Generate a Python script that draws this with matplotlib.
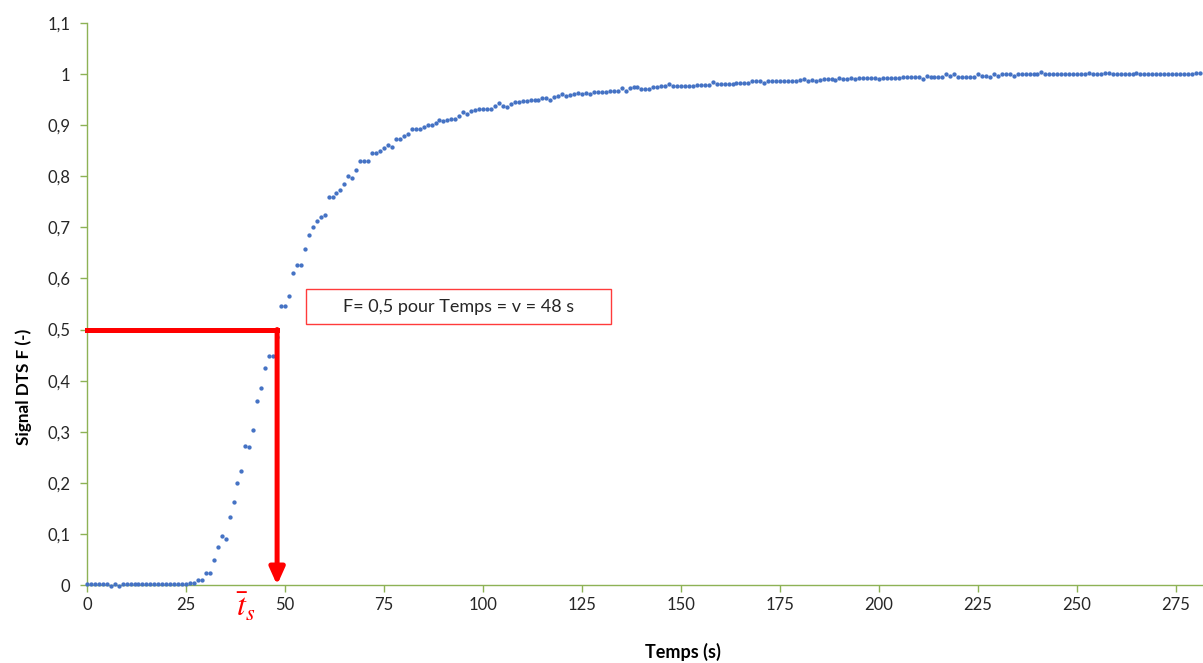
import numpy as np
import matplotlib
matplotlib.use("Agg")
import matplotlib.pyplot as plt
from matplotlib.patches import Rectangle
from matplotlib.ticker import FixedLocator, FuncFormatter

plt.rcParams['font.family'] = ['Lato', 'DejaVu Sans']
plt.rcParams['mathtext.fontset'] = 'stix'

# ---- data (signal F, one sample per second) ----
signal_F = [
    # 0-23 s
    0.001, 0.001, 0.001, 0.001, 0.001, 0.001, -0.001, 0.001, -0.001, 0.001,
    0.001, 0.001, 0.001, 0.001, 0.001, 0.001, 0.001, 0.001, 0.001, 0.001,
    0.001, 0.001, 0.001, 0.001,
    # 24-55 s
    0.001, 0.001, 0.004, 0.004, 0.010, 0.010, 0.023, 0.023, 0.048, 0.075,
    0.096, 0.091, 0.134, 0.163, 0.199, 0.224, 0.273, 0.271, 0.303, 0.361,
    0.386, 0.424, 0.449, 0.449, 0.486, 0.546, 0.546, 0.566, 0.611, 0.627,
    0.627, 0.657,
    # 56-99 s
    0.686, 0.701, 0.713, 0.720, 0.724, 0.760, 0.760, 0.767, 0.774, 0.785,
    0.800, 0.796, 0.812, 0.830, 0.830, 0.830, 0.845, 0.845, 0.850, 0.855,
    0.861, 0.858, 0.872, 0.872, 0.879, 0.882, 0.893, 0.893, 0.893, 0.896,
    0.900, 0.900, 0.905, 0.911, 0.909, 0.911, 0.913, 0.912, 0.918, 0.925,
    0.922, 0.927, 0.929, 0.931,
    # 100-149 s
    0.931, 0.931, 0.931, 0.938, 0.943, 0.937, 0.935, 0.941, 0.945, 0.945,
    0.947, 0.947, 0.950, 0.950, 0.950, 0.954, 0.954, 0.950, 0.956, 0.957,
    0.961, 0.958, 0.960, 0.961, 0.963, 0.961, 0.963, 0.961, 0.965, 0.965,
    0.965, 0.965, 0.967, 0.967, 0.967, 0.972, 0.967, 0.972, 0.975, 0.974,
    0.971, 0.971, 0.971, 0.974, 0.974, 0.977, 0.977, 0.980, 0.977, 0.977,
    # 150-199 s
    0.977, 0.977, 0.977, 0.977, 0.979, 0.979, 0.979, 0.979, 0.984, 0.980,
    0.980, 0.981, 0.981, 0.981, 0.983, 0.983, 0.983, 0.982, 0.986, 0.986,
    0.986, 0.983, 0.986, 0.986, 0.986, 0.986, 0.986, 0.986, 0.986, 0.986,
    0.988, 0.990, 0.987, 0.989, 0.986, 0.988, 0.990, 0.990, 0.990, 0.989,
    0.993, 0.990, 0.990, 0.993, 0.990, 0.992, 0.992, 0.992, 0.992, 0.992,
    # 200-249 s
    0.990, 0.992, 0.992, 0.992, 0.992, 0.992, 0.995, 0.995, 0.995, 0.995,
    0.995, 0.991, 0.997, 0.995, 0.995, 0.995, 0.995, 1.000, 0.997, 1.000,
    0.995, 0.995, 0.995, 0.995, 0.995, 1.000, 0.997, 0.997, 0.994, 1.000,
    0.997, 1.000, 1.000, 1.000, 0.997, 1.000, 1.000, 1.000, 1.000, 1.000,
    1.000, 1.004, 1.000, 1.000, 1.000, 1.000, 1.000, 1.000, 1.000, 1.000,
    # 250-281 s
    1.000, 1.000, 1.000, 1.002, 1.000, 1.000, 1.000, 1.002, 1.002, 1.000,
    1.000, 1.000, 1.000, 1.000, 1.000, 1.002, 1.000, 1.000, 1.000, 1.000,
    1.000, 1.000, 1.000, 1.000, 1.000, 1.000, 1.000, 1.000, 1.000, 1.000,
    1.002, 1.002,
]
sample_step_s = 1
temps = np.arange(len(signal_F)) * sample_step_s

x_ticks = [0, 25, 50, 75, 100, 125, 150, 175, 200, 225, 250, 275]
y_ticks = [0, 0.1, 0.2, 0.3, 0.4, 0.5, 0.6, 0.7, 0.8, 0.9, 1.0, 1.1]

F_target = 0.5
t_target = 48
annot_text = "F= 0,5 pour Temps = v = 48 s"
ts_label = r"$\bar{t}_s$"
x_label = "Temps (s)"
y_label = "Signal DTS F (-)"

# ---- styling ----
W, H = 1203, 663
green = '#8DB255'
blue = '#4472C4'
red = '#FF0000'

fig = plt.figure(figsize=(W / 100, H / 100), dpi=100)
ax = fig.add_axes([87 / W, 78 / H, (W - 87) / W, (585 - 23) / H])

ax.plot(temps, signal_F, linestyle='none', marker='o', ms=2.1,
        color=blue, mec=blue, clip_on=False, zorder=3)

ax.set_xlim(0, 281.8)
ax.set_ylim(0, 1.1)

for s in ['top', 'right']:
    ax.spines[s].set_visible(False)
for s in ['left', 'bottom']:
    ax.spines[s].set_color(green)
    ax.spines[s].set_linewidth(1.0)

ax.xaxis.set_major_locator(FixedLocator(x_ticks))
ax.yaxis.set_major_locator(FixedLocator(y_ticks))


def comma_fmt(v, pos):
    s = f"{v:.1f}".rstrip('0').rstrip('.')
    return s.replace('.', ',')


ax.yaxis.set_major_formatter(FuncFormatter(comma_fmt))
ax.xaxis.set_major_formatter(FuncFormatter(lambda v, p: f"{int(v)}"))
ax.tick_params(axis='both', direction='out', length=5, width=1,
               color=green, labelsize=12, labelcolor='#262626')
ax.tick_params(axis='y', pad=7)
ax.tick_params(axis='x', pad=4)

# red guide lines + arrow
ax.plot([0, t_target], [F_target, F_target], color=red, lw=3.6,
        solid_capstyle='projecting', clip_on=False, zorder=4)
ax.annotate('', xy=(t_target, 0), xytext=(t_target, F_target),
            arrowprops=dict(arrowstyle='-|>,head_length=1.0,head_width=0.45',
                            color=red, lw=3.6, shrinkA=0, shrinkB=0,
                            mutation_scale=10),
            annotation_clip=False, zorder=4)

# text box
ax.add_patch(Rectangle((55.3, 0.511), 77.0, 0.068, facecolor='white',
                       edgecolor='#FF3B3B', lw=1.0, zorder=5))
ax.text(93.8, 0.545, annot_text, ha='center', va='center', fontsize=13,
        color='#262626', zorder=6)

# t_s label
ax.text(40.2, -0.043, ts_label, color=red, fontsize=23, ha='center',
        va='center', clip_on=False)

fig.text(24 / W, 1 - 387 / H, y_label, rotation=90, ha='center',
         va='center', fontsize=12.3, fontweight='bold', color='black')
fig.text(683 / W, 1 - 652 / H, x_label, ha='center', va='center',
         fontsize=13, fontweight='bold', color='black')

fig.savefig('out.png', dpi=100)
